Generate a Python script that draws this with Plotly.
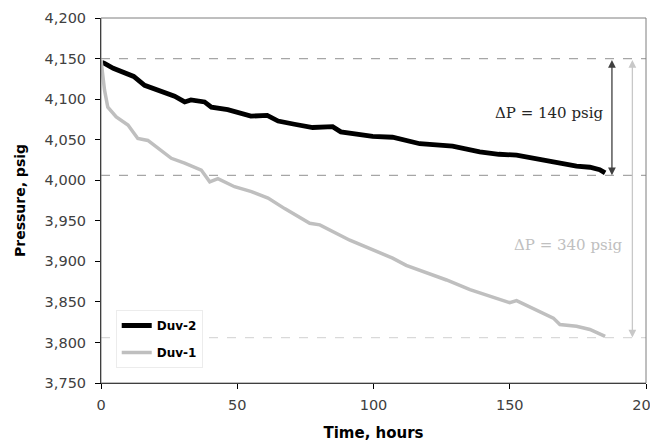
import plotly.graph_objects as go

# Duv-2 (black) readings
duv2_t = [0.5, 1.3, 4.5, 8.6, 12, 16, 21.5, 27, 30.7, 33, 38, 40.5, 46.5, 55, 61, 65, 71,
          77.7, 85, 88, 99.7, 107, 117, 129, 139, 146, 152.5, 165, 174.5, 179.4, 183, 185]
duv2_p = [4145, 4144, 4138, 4132, 4128, 4117, 4110, 4103.5, 4096.5, 4099, 4096.5, 4090, 4087, 4079, 4080, 4073, 4069,
          4065, 4066, 4059.6, 4054, 4053, 4045, 4042, 4035, 4032, 4031, 4023, 4017.5, 4016, 4013, 4009]

# Duv-1 (gray) readings
duv1_t = [0, 0.6, 1.3, 2.5, 5.6, 9.9, 13.5, 17.2, 19.6, 25.8, 30.7, 36.8, 39.9, 42.9, 49, 55.2, 61.3, 67.4,
          76.6, 80.3, 91.3, 101, 107, 112, 126.8, 135.4, 144, 150, 152.5, 157.4, 166, 168.4, 174.5, 179.4, 185]
duv1_p = [4148, 4130, 4111, 4090, 4078, 4068, 4051.5, 4049, 4043, 4027, 4021, 4012.5, 3998, 4002, 3992, 3986, 3978, 3965,
          3947, 3945, 3926, 3912, 3904, 3895, 3877, 3865, 3855, 3849, 3851.5, 3843.6, 3830, 3822, 3820, 3816, 3807.5]

ref_levels = [4150, 4006, 3806]
dp_labels = ["ΔP = 140 psig", "ΔP = 340 psig"]
x_ticks = [0, 50, 100, 150, 200]
y_ticks = [3750, 3800, 3850, 3900, 3950, 4000, 4050, 4100, 4150, 4200]

font_main = "'DejaVu Sans', sans-serif"
serif = "'DejaVu Serif', 'Liberation Serif', serif"

fig = go.Figure()
fig.add_trace(go.Scatter(x=duv2_t, y=duv2_p, mode="lines", name="Duv-2", legendgroup="a",
                         line=dict(color="black", width=4.8)))
fig.add_trace(go.Scatter(x=duv1_t, y=duv1_p, mode="lines", name="Duv-1", legendgroup="b",
                         line=dict(color="#bfbfbf", width=3.5)))

# dashed reference lines
dash_colors = ["#a6a6a6", "#a6a6a6", "#d9d9d9"]
for lvl, c in zip(ref_levels, dash_colors):
    fig.add_shape(type="line", xref="x", yref="y", x0=0, x1=200, y0=lvl, y1=lvl,
                  line=dict(color=c, width=1.2, dash="dash"), layer="below")

# frame
fig.add_shape(type="rect", xref="paper", yref="paper", x0=0, x1=1, y0=0, y1=1,
              line=dict(color="#7f7f7f", width=1))

# arrows
fig.add_annotation(x=187.5, y=ref_levels[1], ax=187.5, ay=ref_levels[0], xref="x", yref="y",
                   axref="x", ayref="y", showarrow=True, arrowhead=2, startarrowhead=2,
                   arrowside="end+start", arrowsize=1.2, arrowwidth=1.3, arrowcolor="#404040", text="")
fig.add_annotation(x=195, y=ref_levels[2], ax=195, ay=ref_levels[0], xref="x", yref="y",
                   axref="x", ayref="y", showarrow=True, arrowhead=2, startarrowhead=2,
                   arrowside="end+start", arrowsize=1.2, arrowwidth=1.3, arrowcolor="#c8c8c8", text="")

fig.add_annotation(x=185.5, y=4083, xref="x", yref="y", text=dp_labels[0], showarrow=False,
                   xanchor="right", font=dict(family=serif, size=15, color="#262626"))
fig.add_annotation(x=192.2, y=3920, xref="x", yref="y", text=dp_labels[1], showarrow=False,
                   xanchor="right", font=dict(family=serif, size=15, color="#c0c0c0"))

fig.update_layout(
    width=650, height=437,
    margin=dict(l=93, r=12, t=10, b=62),
    plot_bgcolor="white", paper_bgcolor="white",
    font=dict(family=font_main, size=14.5, color="#404040"),
    showlegend=True,
    legend=dict(x=0.027, y=0.2, xanchor="left", yanchor="top", bgcolor="white",
                bordercolor="#ececec", borderwidth=1, itemwidth=30,
                font=dict(family=font_main, size=12, color="black", weight="bold"),
                tracegroupgap=8),
)
fig.update_xaxes(range=[0, 200], tickvals=x_ticks, showgrid=False, zeroline=False, automargin=False,
                 showline=True, linecolor="black", linewidth=1, ticks="outside", ticklen=5,
                 tickcolor="black", ticklabeloverflow="allow", ticklabelstandoff=4,
                 title=dict(text="<b>Time, hours</b>", font=dict(size=15, color="black")))
fig.update_yaxes(range=[3750, 4200], tickvals=y_ticks, tickformat=",", showgrid=False, zeroline=False,
                 automargin=False, ticklabelstandoff=6,
                 showline=True, linecolor="black", linewidth=1, ticks="outside", ticklen=5,
                 tickcolor="black",
                 title=dict(text="<b>Pressure, psig</b>", font=dict(size=14, color="black")))

fig.write_html("out.html")
